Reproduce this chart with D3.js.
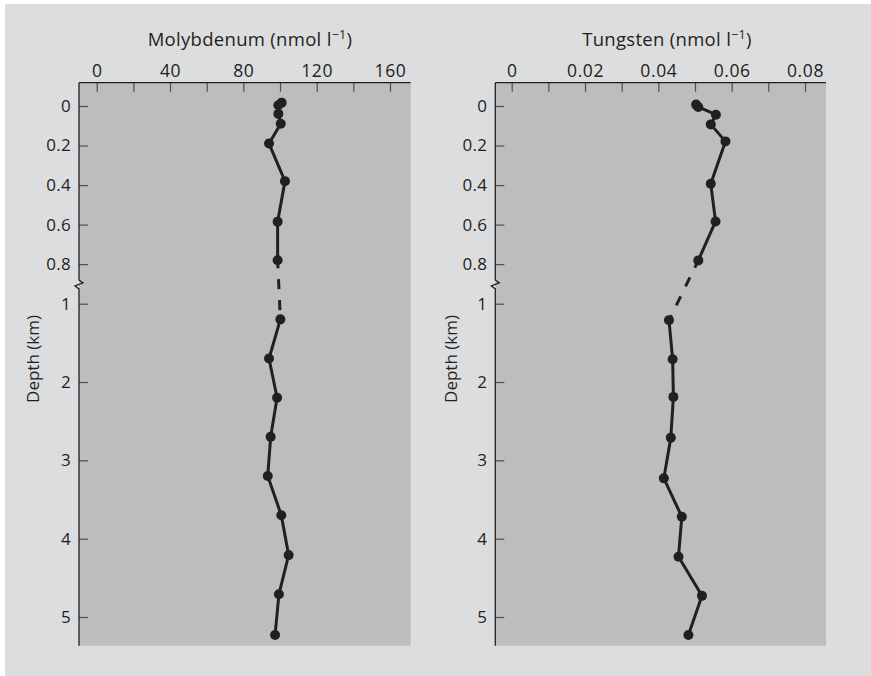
<!DOCTYPE html>
<html>
<head>
<meta charset="utf-8">
<script src="https://cdn.jsdelivr.net/npm/d3@7"></script>
<style>
  html, body { margin: 0; padding: 0; background: #ffffff; }
  svg { display: block; }
  text { font-family: "Open Sans", "Noto Sans", sans-serif; fill: #231f20; }
</style>
</head>
<body>
<svg id="chart" width="871" height="676"></svg>
<script>
// ---------- data ----------
const depthTicks = [0, 0.2, 0.4, 0.6, 0.8, 1, 2, 3, 4, 5];
const depthTickLabels = ["0", "0.2", "0.4", "0.6", "0.8", "1", "2", "3", "4", "5"];

const moTicks = [0, 20, 40, 60, 80, 100, 120, 140, 160];
const moTickLabels = ["0", "", "40", "", "80", "", "120", "", "160"];
const wTicks = [0, 0.01, 0.02, 0.03, 0.04, 0.05, 0.06, 0.07, 0.08];
const wTickLabels = ["0", "", "0.02", "", "0.04", "", "0.06", "", "0.08"];

// Molybdenum (nmol l-1)
const moDepthUpper = [-0.017, -0.004, 0.04, 0.09, 0.19, 0.38, 0.585, 0.78];
const moUpper      = [100.9, 99.1, 99.1, 100.4, 94.0, 102.7, 98.7, 98.7];
const moDepthLower = [1.2, 1.7, 2.2, 2.7, 3.2, 3.7, 4.21, 4.71, 5.23];
const moLower      = [100.2, 94.0, 98.4, 94.9, 93.3, 100.7, 104.7, 99.4, 97.3];

// Tungsten (nmol l-1)
const wDepthUpper = [-0.007, 0.005, 0.044, 0.093, 0.179, 0.393, 0.584, 0.781];
const wUpper      = [0.0503, 0.0509, 0.0557, 0.0543, 0.0583, 0.0543, 0.0556, 0.0509];
const wDepthLower = [1.21, 1.71, 2.19, 2.71, 3.23, 3.72, 4.23, 4.73, 5.23];
const wLower      = [0.0429, 0.0439, 0.0441, 0.0434, 0.0415, 0.0464, 0.0455, 0.0519, 0.0482];

// ---------- layout ----------
const svg = d3.select("#chart");
const ink = "#231f20";
const FONT = '"Open Sans", "Noto Sans", sans-serif';

svg.append("rect").attr("x", 5).attr("y", 4).attr("width", 866).attr("height", 672)
  .attr("fill", "#dcdddf");

const plotTop = 82.7, plotBottom = 645.7;
const y = d3.scaleLinear().domain([0, 1, 5]).range([106, 303.7, 617]);

function panel(cfg) {
  const x = d3.scaleLinear().domain(cfg.xDomain).range(cfg.xRange);
  const g = svg.append("g");
  const L = cfg.left, R = cfg.right;

  g.append("rect").attr("x", L).attr("y", plotTop).attr("width", R - L)
    .attr("height", plotBottom - plotTop).attr("fill", "#bcbdbf");

  // top axis
  const ax = d3.axisTop(x).tickValues(cfg.xTicks)
    .tickFormat((d, i) => cfg.xTickLabels[i]).tickSize(-9).tickPadding(6);
  const gx = g.append("g").attr("transform", `translate(0,${plotTop})`).call(ax);
  gx.select(".domain").remove();
  gx.selectAll(".tick line").attr("stroke", "#4d4d4d").attr("stroke-width", 1.2);
  gx.selectAll(".tick text").attr("font-size", 17.5).attr("fill", ink)
    .attr("letter-spacing", 0.6).style("font-family", FONT);

  // left axis
  const ay = d3.axisLeft(y).tickValues(depthTicks)
    .tickFormat((d, i) => depthTickLabels[i]).tickSize(-9).tickPadding(8);
  const gy = g.append("g").attr("transform", `translate(${L},0)`).call(ay);
  gy.select(".domain").remove();
  gy.selectAll(".tick line").attr("stroke", "#4d4d4d").attr("stroke-width", 1.2);
  gy.selectAll(".tick text").attr("font-size", 17).attr("fill", ink)
    .attr("letter-spacing", 0.3).style("font-family", FONT);

  // axis lines (top and left, with break on left)
  const yb = (y(0.8) + y(1)) / 2;
  g.append("line").attr("x1", L).attr("x2", R).attr("y1", plotTop).attr("y2", plotTop)
    .attr("stroke", ink).attr("stroke-width", 1.3);
  g.append("path")
    .attr("d", `M${L},${plotTop}V${yb - 4}L${L + 4},${yb - 1}L${L - 4},${yb + 2}L${L},${yb + 5}V${plotBottom}`)
    .attr("fill", "none").attr("stroke", ink).attr("stroke-width", 1.3);

  // titles
  const t = g.append("text").attr("x", cfg.titleX).attr("y", 46)
    .attr("text-anchor", "middle").attr("font-size", 18.5).attr("letter-spacing", 0.3);
  t.append("tspan").text(cfg.title + " (nmol l");
  t.append("tspan").attr("font-size", 12.5).attr("dy", -7).text("\u22121");
  t.append("tspan").attr("dy", 7).text(")");

  g.append("text")
    .attr("transform", `translate(${cfg.depthLabelX},359) rotate(-90)`)
    .attr("text-anchor", "middle").attr("font-size", 17).text("Depth (km)");

  // lines
  const line = d3.line().x(d => x(d[0])).y(d => y(d[1]));
  const upper = cfg.upperV.map((v, i) => [v, cfg.upperD[i]]);
  const lower = cfg.lowerV.map((v, i) => [v, cfg.lowerD[i]]);
  const gap = [upper[upper.length - 1], lower[0]];

  g.append("path").attr("d", line(upper)).attr("fill", "none")
    .attr("stroke", ink).attr("stroke-width", 3).attr("stroke-linejoin", "round");
  g.append("path").attr("d", line(lower)).attr("fill", "none")
    .attr("stroke", ink).attr("stroke-width", 3).attr("stroke-linejoin", "round");
  g.append("path").attr("d", line(gap)).attr("fill", "none")
    .attr("stroke", ink).attr("stroke-width", 3)
    .attr("stroke-dasharray", "10,11").attr("stroke-dashoffset", 2);

  g.selectAll("circle.pt").data(upper.concat(lower)).enter().append("circle")
    .attr("class", "pt").attr("cx", d => x(d[0])).attr("cy", d => y(d[1]))
    .attr("r", 5).attr("fill", ink);
}

panel({
  left: 79, right: 410.7,
  xDomain: [0, 160], xRange: [96.7, 390],
  xTicks: moTicks, xTickLabels: moTickLabels,
  title: "Molybdenum", titleX: 250, depthLabelX: 39,
  upperV: moUpper, upperD: moDepthUpper, lowerV: moLower, lowerD: moDepthLower
});

panel({
  left: 495.3, right: 826,
  xDomain: [0, 0.08], xRange: [511.7, 805],
  xTicks: wTicks, xTickLabels: wTickLabels,
  title: "Tungsten", titleX: 667, depthLabelX: 457,
  upperV: wUpper, upperD: wDepthUpper, lowerV: wLower, lowerD: wDepthLower
});
</script>
</body>
</html>
